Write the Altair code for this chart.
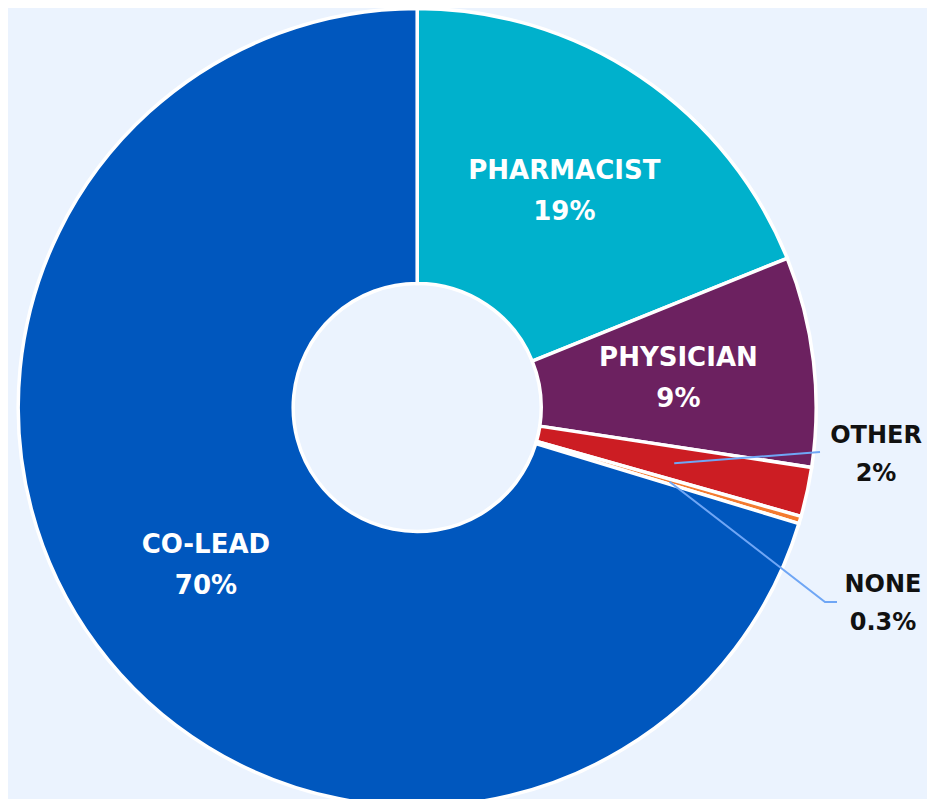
import math
import altair as alt
import pandas as pd

# ---- data ----
categories = ["PHARMACIST", "PHYSICIAN", "OTHER", "NONE", "CO-LEAD"]
values = [18.9, 8.5, 2.0, 0.3, 70.3]
pct_labels = ["19%", "9%", "2%", "0.3%", "70%"]
colors = ["#00B1CC", "#6C2160", "#CC1D23", "#F47A2F", "#0057BE"]
inside = ["PHARMACIST", "PHYSICIAN", "CO-LEAD"]
outside = ["OTHER", "NONE"]

# ---- layout ----
W, H = 919, 791
CX, CY = 409.2, 399.5
R_OUT, R_IN, R_LAB = 399, 124, 263
FONT = "DejaVu Sans"
FS = 26
FS_OUT = 24
BG = "#EBF3FE"
LINE_COLOR = "#6FA6F5"

df = pd.DataFrame({
    "cat": categories,
    "value": values,
    "pct": pct_labels,
    "idx": list(range(len(categories))),
})
df["in_name"] = [c if c in inside else "" for c in categories]
df["in_pct"] = [p if c in inside else "" for c, p in zip(categories, pct_labels)]

# mid angles (clockwise from 12 o'clock) for leader lines
total = sum(values)
mids = {}
acc = 0.0
for c, v in zip(categories, values):
    mids[c] = (acc + v / 2) / total * 2 * math.pi
    acc += v


def polar(c, r):
    a = mids[c]
    return CX + r * math.sin(a), CY - r * math.cos(a)


# outside label anchors (text centre x, name baseline y) and leader routes
label_anchor = {"OTHER": (868, 435), "NONE": (875, 584)}
leader_rows = []
sx, sy = polar("OTHER", R_LAB)
for k, (x, y) in enumerate([(sx, sy), (812, 444)]):
    leader_rows.append({"cat": "OTHER", "k": k, "x": x, "y": y})
sx, sy = polar("NONE", R_LAB)
for k, (x, y) in enumerate([(sx, sy), (817, 594), (829, 594)]):
    leader_rows.append({"cat": "NONE", "k": k, "x": x, "y": y})
leaders = pd.DataFrame(leader_rows)

out_df = pd.DataFrame({
    "cat": outside,
    "pct": [pct_labels[categories.index(c)] for c in outside],
    "x": [label_anchor[c][0] for c in outside],
    "y": [label_anchor[c][1] for c in outside],
})

base = alt.Chart(df).encode(
    theta=alt.Theta("value:Q", stack=True),
    order=alt.Order("idx:Q"),
)

arcs = base.mark_arc(
    outerRadius=R_OUT, innerRadius=R_IN, stroke="white", strokeWidth=3.5
).encode(
    x=alt.value(CX),
    y=alt.value(CY),
    color=alt.Color("cat:N", scale=alt.Scale(domain=categories, range=colors), legend=None),
)

in_name = base.mark_text(
    font=FONT, fontSize=FS, fontWeight="bold", color="white",
    align="center", baseline="alphabetic", dy=-11,
).encode(x=alt.value(CX), y=alt.value(CY), radius=alt.value(R_LAB), text="in_name:N")

in_pct = base.mark_text(
    font=FONT, fontSize=FS, fontWeight="bold", color="white",
    align="center", baseline="alphabetic", dy=30,
).encode(x=alt.value(CX), y=alt.value(CY), radius=alt.value(R_LAB), text="in_pct:N")

lines = alt.Chart(leaders).mark_line(color=LINE_COLOR, strokeWidth=2).encode(
    x=alt.X("x:Q", scale=None, axis=None),
    y=alt.Y("y:Q", scale=None, axis=None),
    detail="cat:N",
    order="k:Q",
)

out_name = alt.Chart(out_df).mark_text(
    font=FONT, fontSize=FS_OUT, fontWeight="bold", color="#111111",
    align="center", baseline="alphabetic",
).encode(
    x=alt.X("x:Q", scale=None, axis=None),
    y=alt.Y("y:Q", scale=None, axis=None),
    text="cat:N",
)
out_pct = alt.Chart(out_df).mark_text(
    font=FONT, fontSize=FS_OUT, fontWeight="bold", color="#111111",
    align="center", baseline="alphabetic", dy=38,
).encode(
    x=alt.X("x:Q", scale=None, axis=None),
    y=alt.Y("y:Q", scale=None, axis=None),
    text="pct:N",
)

chart = alt.layer(arcs, lines, in_name, in_pct, out_name, out_pct).properties(
    width=W, height=H, background=BG, padding=0,
    autosize=alt.AutoSizeParams(type="none"),
).configure_view(stroke=None)

chart.save("out.html", embed_options={"renderer": "svg", "actions": False})
